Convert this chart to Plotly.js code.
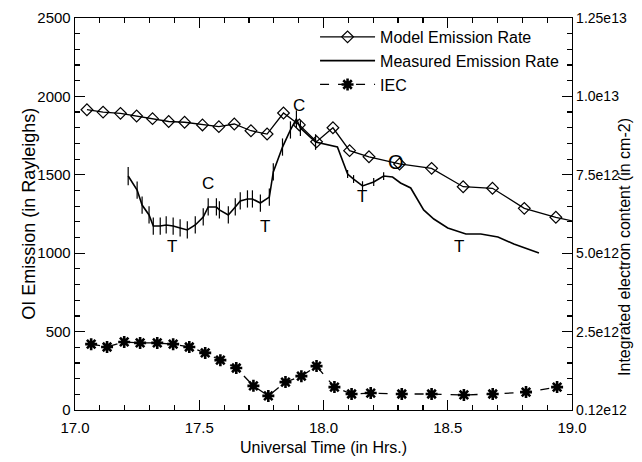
<!DOCTYPE html>
<html>
<head>
<meta charset="utf-8">
<script src="https://cdn.plot.ly/plotly-3.0.1.min.js"></script>
<style>html,body{margin:0;padding:0;background:#fff;}#chart{width:642px;height:462px;}</style>
</head>
<body>
<div id="chart"></div>
<script>
// Model emission rate (Rayleighs)
const modelTime = [17.048,17.113,17.183,17.248,17.312,17.377,17.441,17.513,17.579,17.641,17.708,17.773,17.839,17.903,17.972,18.038,18.105,18.183,18.306,18.435,18.562,18.680,18.808,18.935,19.06];
const modelRate = [1915,1900,1892,1875,1858,1840,1835,1818,1807,1824,1781,1760,1894,1818,1711,1800,1654,1615,1569,1541,1424,1414,1286,1229,1185];

// Measured emission rate (Rayleighs) and error-tick half lengths
const measTime = [17.214,17.25,17.27,17.298,17.315,17.343,17.367,17.395,17.423,17.452,17.484,17.516,17.536,17.569,17.581,17.617,17.645,17.665,17.694,17.714,17.746,17.782,17.798,17.835,17.867,17.891,17.907,17.968,18.056,18.097,18.121,18.157,18.202,18.242,18.278,18.310,18.351,18.403,18.444,18.500,18.573,18.633,18.702,18.766,18.867];
const measRate = [1492,1403,1307,1244,1173,1173,1180,1173,1161,1148,1180,1231,1295,1295,1276,1244,1295,1333,1346,1346,1320,1358,1518,1677,1786,1856,1798,1709,1677,1505,1473,1429,1454,1492,1486,1448,1416,1276,1218,1161,1122,1122,1103,1059,1001];
const measErr  = [58,55,55,55,55,55,55,55,55,55,55,55,55,55,55,55,55,55,55,55,55,55,55,55,55,55,50,50,0,25,25,30,25,25,0,0,0,0,0,0,0,0,0,0,0];

// Integrated electron content (cm-2)
const iecTime = [17.065,17.129,17.198,17.262,17.331,17.395,17.460,17.524,17.585,17.649,17.718,17.778,17.847,17.911,17.972,18.044,18.113,18.190,18.315,18.435,18.565,18.681,18.815,18.940];
const iecVal  = [2.10e12,2.01e12,2.17e12,2.14e12,2.14e12,2.10e12,2.01e12,1.82e12,1.59e12,1.34e12,0.77e12,0.45e12,0.89e12,1.08e12,1.40e12,0.73e12,0.51e12,0.54e12,0.51e12,0.51e12,0.48e12,0.51e12,0.57e12,0.73e12];

// Axis tick labels
const y2TickVals = [0,2.5e12,5e12,7.5e12,1e13,1.25e13];
const y2TickText = ['0.12e12','2.5e12','5.0e12','7.5e12','1.0e13','1.25e13'];

// Text labels on the curves
const labelText = ['C','T','T','C','T','O','T'];
const labelTime = [17.537,17.390,17.766,17.903,18.156,18.290,18.546];
const labelRate = [1446,1041,1169,1939,1360,1580,1041];

const FONT = 'Liberation Sans, Arial, Helvetica, sans-serif';

const traces = [
  {x: modelTime, y: modelRate, name: 'Model Emission Rate', mode: 'lines+markers', type: 'scatter',
   line: {color: '#000', width: 1.3},
   marker: {symbol: 'diamond-open', size: 9, color: '#000', line: {color: '#000', width: 1.2}}},
  {x: measTime, y: measRate, name: 'Measured Emission Rate', mode: 'lines', type: 'scatter',
   line: {color: '#000', width: 1.6},
   error_y: {type: 'data', array: measErr, visible: true, width: 0, thickness: 1.2, color: '#000'}},
  {x: iecTime, y: iecVal, name: 'IEC', mode: 'lines+markers', type: 'scatter', yaxis: 'y2',
   line: {color: '#000', width: 1.3, dash: 'dash'},
   marker: {symbol: 'asterisk-open', size: 10, color: '#000', line: {color: '#000', width: 2.6}}}
];

const annotations = labelText.map((t, i) => ({
  x: labelTime[i], y: labelRate[i], xref: 'x', yref: 'y', text: t, showarrow: false,
  font: {family: FONT, size: t === 'O' ? 20 : 17, color: '#000'}
}));
annotations.push({xref: 'paper', yref: 'paper', x: -0.117, y: 0.5, text: 'OI Emission (in Rayleighs)',
  textangle: -90, showarrow: false, font: {family: FONT, size: 18, color: '#000'}});
annotations.push({xref: 'paper', yref: 'paper', x: 1.127, y: 0.415, text: 'Integrated electron content (in cm-2)',
  textangle: -90, showarrow: false, font: {family: FONT, size: 16, color: '#000'}});

const layout = {
  width: 642, height: 462,
  margin: {l: 75, r: 70, t: 18, b: 52},
  paper_bgcolor: '#fff', plot_bgcolor: '#fff',
  font: {family: FONT, size: 14, color: '#000'},
  showlegend: true,
  legend: {x: 0.483, y: 0.995, xanchor: 'left', yanchor: 'top', bgcolor: 'rgba(0,0,0,0)', itemwidth: 55,
           font: {family: FONT, size: 16, color: '#000'}, tracegroupgap: 0},
  xaxis: {range: [17, 19], dtick: 0.5, tick0: 17, tickformat: '.1f', ticks: 'inside', ticklen: 10,
          tickwidth: 1.2, tickcolor: '#000', showline: true, linecolor: '#000', linewidth: 1.3,
          mirror: 'ticks', showgrid: false, zeroline: false, ticklabelstandoff: 4,
          minor: {dtick: 0.1, ticks: 'inside', ticklen: 5, tickcolor: '#000', showgrid: false},
          title: {text: 'Universal Time (in Hrs.)', font: {family: FONT, size: 16}, standoff: 6},
          tickfont: {family: FONT, size: 15}},
  yaxis: {range: [0, 2500], dtick: 500, ticks: 'inside', ticklen: 10, tickwidth: 1.2, tickcolor: '#000',
          showline: true, linecolor: '#000', linewidth: 1.3, showgrid: false, zeroline: false,
          minor: {dtick: 100, ticks: 'inside', ticklen: 5, tickcolor: '#000', showgrid: false},
          tickfont: {family: FONT, size: 15}},
  yaxis2: {overlaying: 'y', side: 'right', range: [0, 1.25e13], tickmode: 'array', tickvals: y2TickVals,
           ticktext: y2TickText, ticks: 'inside', ticklen: 10, tickwidth: 1.2, tickcolor: '#000',
           showline: true, linecolor: '#000', linewidth: 1.3, showgrid: false, zeroline: false,
           minor: {tickmode: 'linear', tick0: 0, dtick: 0.5e12, ticks: 'inside', ticklen: 5, tickcolor: '#000', showgrid: false},
           tickfont: {family: FONT, size: 14}},
  annotations: annotations
};

Plotly.newPlot('chart', traces, layout, {displayModeBar: false, staticPlot: true});
</script>
</body>
</html>
